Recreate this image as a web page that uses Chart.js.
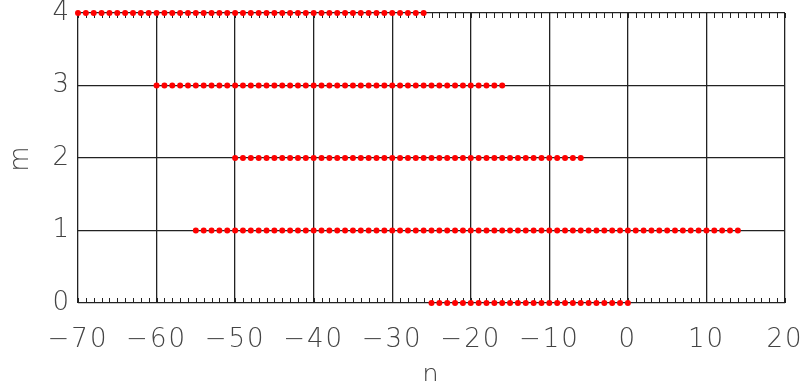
<!DOCTYPE html>
<html>
<head>
<meta charset="utf-8">
<script src="https://cdn.jsdelivr.net/npm/chart.js@4/dist/chart.umd.min.js"></script>
<style>
  html, body { margin: 0; padding: 0; background: #fff; }
  #wrap { width: 801px; height: 381px; }
</style>
</head>
<body>
<div id="wrap"><canvas id="c" width="801" height="381"></canvas></div>
<script>
// Allowed (n, m) states: n values on each row m
const rowM = [0, 1, 2, 3, 4];
const nRow0 = [-25,-24,-23,-22,-21,-20,-19,-18,-17,-16,-15,-14,-13,-12,-11,-10,-9,-8,-7,-6,-5,-4,-3,-2,-1,0];
const nRow1 = [-55,-54,-53,-52,-51,-50,-49,-48,-47,-46,-45,-44,-43,-42,-41,-40,-39,-38,-37,-36,-35,-34,-33,-32,-31,-30,-29,-28,-27,-26,-25,-24,-23,-22,-21,-20,-19,-18,-17,-16,-15,-14,-13,-12,-11,-10,-9,-8,-7,-6,-5,-4,-3,-2,-1,0,1,2,3,4,5,6,7,8,9,10,11,12,13,14];
const nRow2 = [-50,-49,-48,-47,-46,-45,-44,-43,-42,-41,-40,-39,-38,-37,-36,-35,-34,-33,-32,-31,-30,-29,-28,-27,-26,-25,-24,-23,-22,-21,-20,-19,-18,-17,-16,-15,-14,-13,-12,-11,-10,-9,-8,-7,-6];
const nRow3 = [-60,-59,-58,-57,-56,-55,-54,-53,-52,-51,-50,-49,-48,-47,-46,-45,-44,-43,-42,-41,-40,-39,-38,-37,-36,-35,-34,-33,-32,-31,-30,-29,-28,-27,-26,-25,-24,-23,-22,-21,-20,-19,-18,-17,-16];
const nRow4 = [-70,-69,-68,-67,-66,-65,-64,-63,-62,-61,-60,-59,-58,-57,-56,-55,-54,-53,-52,-51,-50,-49,-48,-47,-46,-45,-44,-43,-42,-41,-40,-39,-38,-37,-36,-35,-34,-33,-32,-31,-30,-29,-28,-27,-26];
const rows = [nRow0, nRow1, nRow2, nRow3, nRow4];

const xTicks = [-70, -60, -50, -40, -30, -20, -10, 0, 10, 20];
const yTicks = [0, 1, 2, 3, 4];

const points = [];
rows.forEach((ns, i) => ns.forEach(n => points.push({ x: n, y: rowM[i] })));

const FONT = "'DejaVu Sans ExtraLight', 'DejaVu Sans Light', Roboto, sans-serif";
const TEXT = '#444';
const AXIS = '#222';

// Unit minor ticks along the bottom and top edges, pointing inward
const minorTicks = {
  id: 'minorTicks',
  beforeDatasetsDraw(chart) {
    const { ctx, chartArea: a, scales: { x } } = chart;
    ctx.save();
    ctx.strokeStyle = AXIS;
    ctx.lineWidth = 1;
    ctx.beginPath();
    for (let v = x.min; v <= x.max; v++) {
      const px = Math.round(x.getPixelForValue(v)) + 0.5;
      ctx.moveTo(px, a.bottom);
      ctx.lineTo(px, a.bottom - 5);
      ctx.moveTo(px, a.top);
      ctx.lineTo(px, a.top + 5);
    }
    ctx.stroke();
    ctx.restore();
  }
};

const spacing = {
  id: 'spacing',
  beforeDraw(chart) { chart.ctx.letterSpacing = '2px'; }
};

new Chart(document.getElementById('c'), {
  type: 'scatter',
  data: {
    datasets: [{
      data: points,
      pointRadius: 3,
      pointHoverRadius: 3,
      pointBackgroundColor: '#ff0000',
      pointBorderWidth: 0,
      clip: false
    }]
  },
  options: {
    responsive: false,
    animation: false,
    events: [],
    layout: { padding: { top: 13, right: 16, left: 0, bottom: 0 } },
    plugins: { legend: { display: false }, tooltip: { enabled: false } },
    scales: {
      x: {
        type: 'linear',
        min: -70, max: 20,
        afterBuildTicks(s) { s.ticks = xTicks.map(v => ({ value: v })); },
        afterFit(s) { s.height = 78; s.paddingLeft = 0; s.paddingRight = 0; },
        border: { display: false },
        grid: { color: AXIS, lineWidth: 1.3, drawTicks: false },
        ticks: {
          padding: 22,
          color: TEXT,
          font: { family: FONT, size: 26, weight: 300 },
          maxRotation: 0,
          callback: v => (v < 0 ? '\u2212' + Math.abs(v) : String(v))
        },
        title: {
          display: true, text: 'n', color: TEXT, padding: { top: 12, bottom: -11 },
          font: { family: FONT, size: 26, weight: 300 }
        }
      },
      y: {
        type: 'linear',
        min: 0, max: 4,
        afterBuildTicks(s) { s.ticks = yTicks.map(v => ({ value: v })); },
        afterFit(s) { s.width = 78; s.paddingTop = 0; s.paddingBottom = 0; },
        border: { display: false },
        grid: { color: AXIS, lineWidth: 1.3, drawTicks: false },
        ticks: {
          padding: 7,
          color: TEXT,
          font: { family: FONT, size: 26, weight: 300 }
        },
        title: {
          display: true, text: 'm', color: TEXT, padding: { top: 6, bottom: 6 },
          font: { family: FONT, size: 26, weight: 300 }
        }
      }
    }
  },
  plugins: [minorTicks, spacing]
});
</script>
</body>
</html>
